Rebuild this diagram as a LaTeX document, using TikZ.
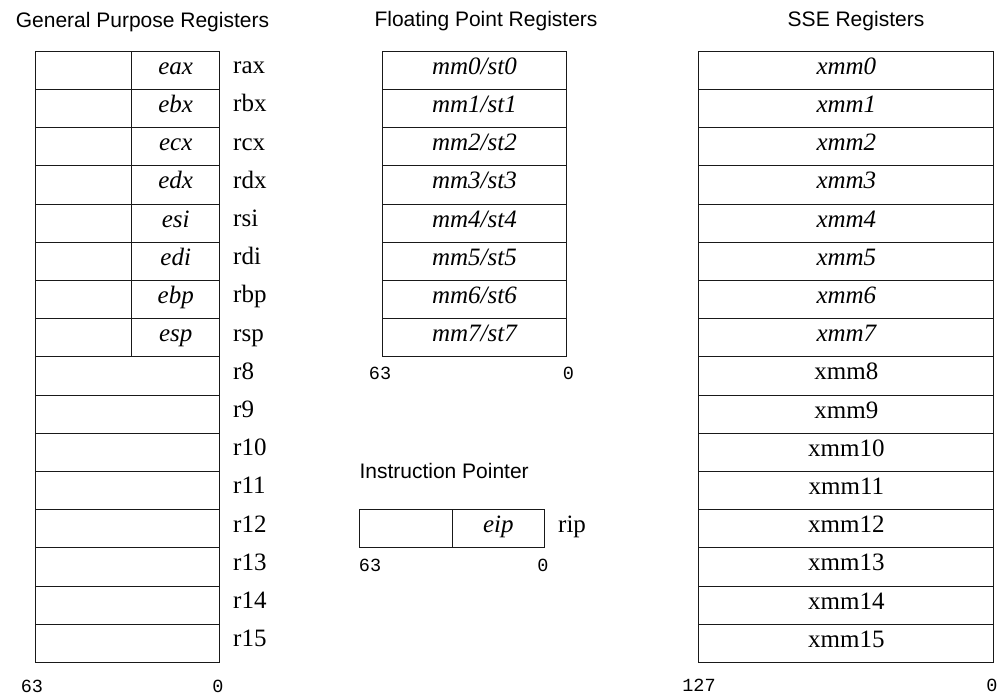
\documentclass[tikz,border=0pt]{standalone}
\usepackage{fontspec}
\setmainfont{Liberation Serif}
\setsansfont{Liberation Sans}
\setmonofont{Liberation Mono}
\begin{document}
\begin{tikzpicture}[x=1pt,y=-1pt,
  cell/.style={draw=black!90, line width=1.1pt, inner sep=0pt, minimum height=38.2pt,
    text height=12.8pt, text depth=5pt, font=\fontsize{25}{25}\selectfont, anchor=north west},
  regname/.style={inner sep=0pt, anchor=base west, font=\fontsize{25}{25}\selectfont},
  title/.style={inner sep=0pt, anchor=base, font=\sffamily\fontsize{21}{21}\selectfont},
  bitlbl/.style={inner sep=0pt, anchor=base, font=\ttfamily\fontsize{18.5}{18.5}\selectfont}]
\useasboundingbox (0,0) rectangle (998,696);
% titles
\node[title] (tgpr) at (142.5,27.3) {General Purpose Registers};
\node[title] (tfp) at (486,26.7) {Floating Point Registers};
\node[title] (tsse) at (856,27) {SSE Registers};
\node[title, anchor=base west] (tip) at (359.3,478) {Instruction Pointer};
% general purpose registers
\foreach \e/\r [count=\i from 0] in {eax/rax,ebx/rbx,ecx/rcx,edx/rdx,esi/rsi,edi/rdi,ebp/rbp,esp/rsp} {
  \pgfmathsetmacro\t{50.7+38.2*\i}
  \node[cell, minimum width=96pt] (gl\i) at (35,\t) {};
  \node[cell, minimum width=88.3pt] (gr\i) at (131,\t) {\itshape \e};
  \node[regname] (gn\i) at (233,\t+23) {\r};
}
\foreach \r [count=\i from 8] in {r8,r9,r10,r11,r12,r13,r14,r15} {
  \pgfmathsetmacro\t{50.7+38.2*\i}
  \node[cell, minimum width=184.3pt] (gl\i) at (35,\t) {};
  \node[regname] (gn\i) at (233,\t+23) {\r};
}
\node[bitlbl] (g63) at (32,692) {63};
\node[bitlbl] (g0) at (218,692) {0};
% floating point registers
\foreach \i in {0,...,7} {
  \pgfmathsetmacro\t{50.7+38.2*\i}
  \node[cell, minimum width=184.3pt] (fp\i) at (381.7,\t) {\itshape mm\i/st\i};
}
\node[bitlbl] (f63) at (380,379) {63};
\node[bitlbl] (f0) at (568.3,379) {0};
% instruction pointer
\node[cell, minimum width=92.4pt] (ipl) at (359.3,509) {};
\node[cell, minimum width=92.3pt] (ipr) at (451.7,509) {\itshape eip};
\node[regname] (ipn) at (558,532) {rip};
\node[bitlbl] (i63) at (370,571.5) {63};
\node[bitlbl] (i0) at (543,571.5) {0};
% SSE registers
\foreach \i in {0,...,7} {
  \pgfmathsetmacro\t{50.7+38.2*\i}
  \node[cell, minimum width=295pt] (x\i) at (698.3,\t) {\itshape xmm\i};
}
\foreach \i in {8,...,15} {
  \pgfmathsetmacro\t{50.7+38.2*\i}
  \node[cell, minimum width=295pt] (x\i) at (698.3,\t) {xmm\i};
}
\node[bitlbl] (x127) at (699,691.5) {127};
\node[bitlbl] (x0) at (992,691.5) {0};
\end{tikzpicture}
\end{document}
